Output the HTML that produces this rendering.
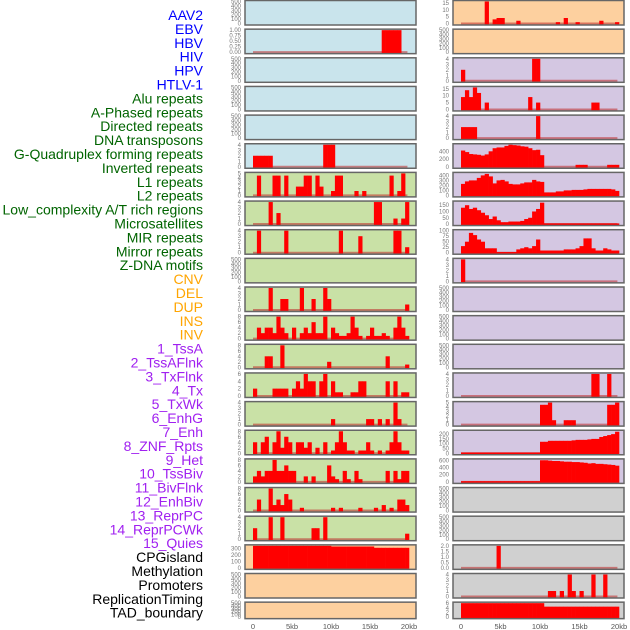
<!DOCTYPE html>
<html><head><meta charset="utf-8"><style>
html,body{margin:0;padding:0;background:#fff;}
svg{display:block;font-family:"Liberation Sans",sans-serif;}
</style></head><body>
<svg id="chart" width="630" height="630" viewBox="0 0 630 630"></svg>
<script>
const labels = ["AAV2","EBV","HBV","HIV","HPV","HTLV-1","Alu repeats","A-Phased repeats","Directed repeats","DNA transposons","G-Quadruplex forming repeats","Inverted repeats","L1 repeats","L2 repeats","Low_complexity A/T rich regions","Microsatellites","MIR repeats","Mirror repeats","Z-DNA motifs","CNV","DEL","DUP","INS","INV","1_TssA","2_TssAFlnk","3_TxFlnk","4_Tx","5_TxWk","6_EnhG","7_Enh","8_ZNF_Rpts","9_Het","10_TssBiv","11_BivFlnk","12_EnhBiv","13_ReprPC","14_ReprPCWk","15_Quies","CPGisland","Methylation","Promoters","ReplicationTiming","TAD_boundary"];
const labelGroups = [6,13,5,15,5];
const groupColors = ["#0000ff","#006400","#ffa500","#a020f0","#000000"];
const xTickKb = [0,5,10,15,20];
const xTickLabels = ["0","5kb","10kb","15kb","20kb"];
const binKb = 0.5;
const dataEndKb = 19.8;

const T500 = [0,100,200,300,400,500];
const T4 = [0,1,2,3,4];
const T5 = [0,1,2,3,4,5];
const T8 = [0,2,4,6,8];
const T6 = [0,2,4,6];

const L02 = [[33,1],[34,1],[35,1],[36,1],[37,1]];
const L06 = [[0,2],[1,2],[2,2],[3,2],[4,2],[18,4],[19,4],[20,4]];
const L07 = [[1,4.5],[5,4.5],[6,4.5],[8,4.5],[11,2],[12,2],[13,4.5],[14,4.5],[16,4.5],[17,2],[20,1],[21,4.5],[22,4.5],[26,1],[28,1],[35,4.5],[37,1],[38,5]];
const L08 = [[4,4],[6,2],[31,4],[32,4],[36,1],[38,1],[39,4]];
const L09 = [[1,4],[8,4],[22,4],[27,3],[36,4],[37,4],[39,1]];
const L11 = [[4,4],[7,2],[8,2],[12,4],[15,2],[18,4],[19,2],[39,1]];
const L12 = [0,4,2,4,4,2,8,4,2,0,4,0,2,4,2,6,2,2,8,0,4,2,1,1,2,8,4,1,0,1,4,1,1,2,1,0,4,8,4,1];
const L13 = [[3,4],[4,4],[7,8],[19,2],[34,4],[39,1]];
const L14 = [[0,2],[5,2],[6,2],[7,2],[8,2],[10,2],[11,4],[12,2],[13,6],[14,4],[15,4],[17,4],[18,6],[20,4],[21,1],[22,1],[25,1],[26,1],[27,4],[28,4],[34,4],[36,4],[38,1],[39,1]];
const L15 = [[20,1],[29,1],[30,1],[32,1],[34,1],[36,4],[37,1]];
const L16 = [4,0,4,6,0,4,8,2,6,4,0,4,4,2,4,0,2,0,4,0,1,4,8,4,1,1,0,1,1,4,1,0,1,0,1,4,8,4,1,1];
const L17 = [2,4,2,4,4,8,4,4,6,4,4,0,0,2,0,2,0,0,0,6,2,1,0,4,1,0,4,1,0,0,0,0,0,0,4,0,4,1,4,4];
const L18 = [[1,4],[4,8],[5,2],[6,4],[7,2],[8,6],[9,4],[12,1],[20,1],[22,1],[27,1],[31,1],[33,2],[35,1],[37,4],[38,4],[39,2]];
const L19 = [[0,2],[4,4],[7,4],[15,2],[16,2],[18,4],[39,1]];
const L20 = [350,350,350,350,350,350,350,350,350,360,340,340,340,340,340,340,340,340,340,340,330,330,330,330,330,330,330,330,330,330,330,310,310,310,310,310,310,310,310,310];

const R01 = [[6,16],[8,3],[9,4],[10,4],[14,2],[24,1],[26,4],[29,1],[35,2],[39,1]];
const R03 = [[0,2],[18,4],[19,4]];
const R04 = [[0,9],[1,14],[2,9],[3,16],[4,12],[6,5],[17,9],[19,5],[33,5],[34,5]];
const R05 = [[0,2],[1,2],[2,2],[3,2],[19,4]];
const R06 = [420,380,330,320,310,290,320,400,480,500,500,540,570,560,550,530,520,480,430,440,300,0,0,0,0,0,0,0,0,50,50,50,0,0,0,0,0,50,50,50];
const R07 = [230,280,300,300,350,400,430,380,240,300,310,280,230,220,220,240,260,260,310,280,270,60,60,60,80,80,100,100,110,110,110,120,130,130,130,130,130,130,120,90];
const R08 = [130,150,120,130,110,90,70,40,60,30,15,15,20,20,20,25,40,50,100,120,170,5,5,5,5,5,5,5,5,5,5,5,5,5,5,5,5,5,5,5];
const R09 = [30,50,90,80,60,50,20,20,20,3,3,3,3,3,15,20,25,20,30,60,10,10,10,10,10,10,15,15,15,20,30,65,65,20,10,10,20,15,10,10];
const R10 = [[0,4]];
const R14 = [[33,4],[34,4],[37,4]];
const R15 = [[20,4.5],[21,4.5],[22,5],[23,1],[26,1],[27,1],[28,1],[37,4.5],[38,4.5],[39,5]];
const R16 = [8,8,8,8,8,8,8,8,8,8,8,8,8,8,8,8,8,8,8,8,120,120,130,130,130,130,130,130,135,140,140,140,145,150,150,170,180,190,200,225];
const R17 = [20,20,20,20,20,20,20,20,20,20,20,20,20,20,20,20,20,20,20,20,600,600,590,580,580,570,560,560,550,550,540,530,510,520,500,500,490,480,470,450];
const R20 = [[9,2]];
const R21 = [[22,1],[23,1],[25,1],[27,4],[28,1],[30,1],[33,4],[36,4]];
const R22 = [6,6,6,6,6,6,6,6,6,6,6,6,6,6,6,6,6,6,6,6,6,4.5,4.5,4.5,4.5,4.5,4.5,4.5,4.5,4.5,4.5,4.5,4.5,4.5,4.5,4.5,4.5,4.5,4.5,4.5];

const BLUE="#c9e4ec", GREEN="#c9e1a6", ORANGE="#fdd09f", PURPLE="#d4c7e2", GRAY="#d0d0d0";
const panels = [
 {c:0,bg:BLUE,t:T500,top:500,d:null,n:"aav2"},
 {c:0,bg:BLUE,t:[0,0.25,0.5,0.75,1],tl:["0.00","0.25","0.50","0.75","1.00"],top:1,d:L02,n:"ebv"},
 {c:0,bg:BLUE,t:T500,top:500,d:null,n:"hbv"},
 {c:0,bg:BLUE,t:T500,top:500,d:null,n:"hiv"},
 {c:0,bg:BLUE,t:T500,top:500,d:null,n:"hpv"},
 {c:0,bg:BLUE,t:T4,top:4,d:L06,n:"htlv1"},
 {c:0,bg:GREEN,t:T5,top:5,d:L07,n:"alu"},
 {c:0,bg:GREEN,t:T4,top:4,d:L08,n:"a-phased"},
 {c:0,bg:GREEN,t:T4,top:4,d:L09,n:"directed"},
 {c:0,bg:GREEN,t:T500,top:500,d:null,n:"dna-transposons"},
 {c:0,bg:GREEN,t:T4,top:4,d:L11,n:"g-quadruplex"},
 {c:0,bg:GREEN,t:T8,top:8,d:L12,n:"inverted"},
 {c:0,bg:GREEN,t:T8,top:8,d:L13,n:"l1"},
 {c:0,bg:GREEN,t:T6,top:6,d:L14,n:"l2"},
 {c:0,bg:GREEN,t:T4,top:4,d:L15,n:"low-complexity"},
 {c:0,bg:GREEN,t:T8,top:8,d:L16,n:"microsatellites"},
 {c:0,bg:GREEN,t:T8,top:8,d:L17,n:"mir"},
 {c:0,bg:GREEN,t:T8,top:8,d:L18,n:"mirror"},
 {c:0,bg:GREEN,t:T4,top:4,d:L19,n:"z-dna"},
 {c:0,bg:ORANGE,t:[0,100,200,300],top:340,d:L20,n:"cpg"},
 {c:0,bg:ORANGE,t:T500,top:500,d:null,n:"methylation"},
 {c:0,bg:ORANGE,t:T500,top:500,d:null,n:"promoters"},
 {c:1,bg:ORANGE,t:[0,5,10,15],top:16,d:R01,n:"r1"},
 {c:1,bg:ORANGE,t:T500,top:500,d:null,n:"r2"},
 {c:1,bg:PURPLE,t:T4,top:4,d:R03,n:"r3"},
 {c:1,bg:PURPLE,t:[0,5,10,15],top:16,d:R04,n:"r4"},
 {c:1,bg:PURPLE,t:T4,top:4,d:R05,n:"r5"},
 {c:1,bg:PURPLE,t:[0,200,400],top:570,d:R06,n:"r6"},
 {c:1,bg:PURPLE,t:[0,100,200,300,400],top:440,d:R07,n:"r7"},
 {c:1,bg:PURPLE,t:[0,50,100,150],top:175,d:R08,n:"r8"},
 {c:1,bg:PURPLE,t:[0,25,50,75,100],top:100,d:R09,n:"r9"},
 {c:1,bg:PURPLE,t:T4,top:4,d:R10,n:"r10"},
 {c:1,bg:PURPLE,t:T500,top:500,d:null,n:"r11"},
 {c:1,bg:PURPLE,t:T500,top:500,d:null,n:"r12"},
 {c:1,bg:PURPLE,t:T500,top:500,d:null,n:"r13"},
 {c:1,bg:PURPLE,t:T4,top:4,d:R14,n:"r14"},
 {c:1,bg:PURPLE,t:T5,top:5,d:R15,n:"r15"},
 {c:1,bg:PURPLE,t:[0,50,100,150,200],top:230,d:R16,n:"r16"},
 {c:1,bg:PURPLE,t:[0,200,400,600],top:610,d:R17,n:"r17"},
 {c:1,bg:GRAY,t:T500,top:500,d:null,n:"r18"},
 {c:1,bg:GRAY,t:T500,top:500,d:null,n:"r19"},
 {c:1,bg:GRAY,t:[0,0.5,1,1.5,2],tl:["0.0","0.5","1.0","1.5","2.0"],top:2,d:R20,n:"r20"},
 {c:1,bg:GRAY,t:T4,top:4,d:R21,n:"r21"},
 {c:1,bg:GRAY,t:T6,top:6,d:R22,n:"r22"}
];

const NS="http://www.w3.org/2000/svg";
const svg=document.getElementById("chart");
function mk(tag,attrs,parent){const e=document.createElementNS(NS,tag);for(const k in attrs)e.setAttribute(k,attrs[k]);(parent||svg).appendChild(e);return e;}
const colX=[{x0:245,x1:416,d0:253,d1:409},{x0:453,x1:624,d0:461,d1:619}];
function xs(c,kb){const g=colX[c];return g.d0+(g.d1-g.d0)*kb/20;}
const rowTop=r=>0.5+r*28.65;
const rowH=r=>r===21?16.5:24.5;

let li=0;
labelGroups.forEach((cnt,gi)=>{for(let k=0;k<cnt;k++){const t=mk("text",{x:203,y:15+li*13.9+5,"text-anchor":"end","font-size":"14",fill:groupColors[gi]});t.textContent=labels[li];


li++;}});

const counts=[0,0];
panels.forEach(p=>{
 const r=counts[p.c]++; const g=colX[p.c]; const PH=rowH(r); const y0=rowTop(r), y1=y0+PH;
 const grp=mk("g",{});
 
 
 mk("rect",{x:g.x0,y:y0,width:g.x1-g.x0,height:PH,fill:p.bg},grp);
 const ib=y1-1.5, it=y0+1;
 const ys=v=>ib-(ib-it)*Math.min(v,p.top)/p.top;
 p.t.forEach((tv,i)=>{const tt=mk("text",{x:g.x0-4,y:ys(tv)+2,"text-anchor":"end","font-size":"6",fill:"#777"},grp);tt.textContent=p.tl?p.tl[i]:String(tv);
 
 });
 if(p.d){
  mk("line",{x1:xs(p.c,0),x2:xs(p.c,dataEndKb),y1:ib,y2:ib,stroke:"rgba(190,40,40,0.55)","stroke-width":2},grp);
  const pairs=typeof p.d[0]==="number"?p.d.map((v,i)=>[i,v]):p.d;
  pairs.forEach(([b,v])=>{if(v<=0)return;const xa=xs(p.c,b*binKb),xb=xs(p.c,(b+1)*binKb);
   const bar=mk("rect",{x:xa,y:ys(v),width:xb-xa+0.3,height:ib-ys(v)+1,fill:"#ff0000"},grp);
   
   });
 }
 mk("rect",{x:g.x0,y:y0,width:g.x1-g.x0,height:PH,fill:"none",stroke:"#666","stroke-width":1.5},grp);
});

[0,1].forEach(c=>{xTickKb.forEach((kb,i)=>{const t=mk("text",{x:xs(c,kb),y:629,"text-anchor":"middle","font-size":"7.5",fill:"#555"});t.textContent=xTickLabels[i];

});});
</script>
</body></html>
